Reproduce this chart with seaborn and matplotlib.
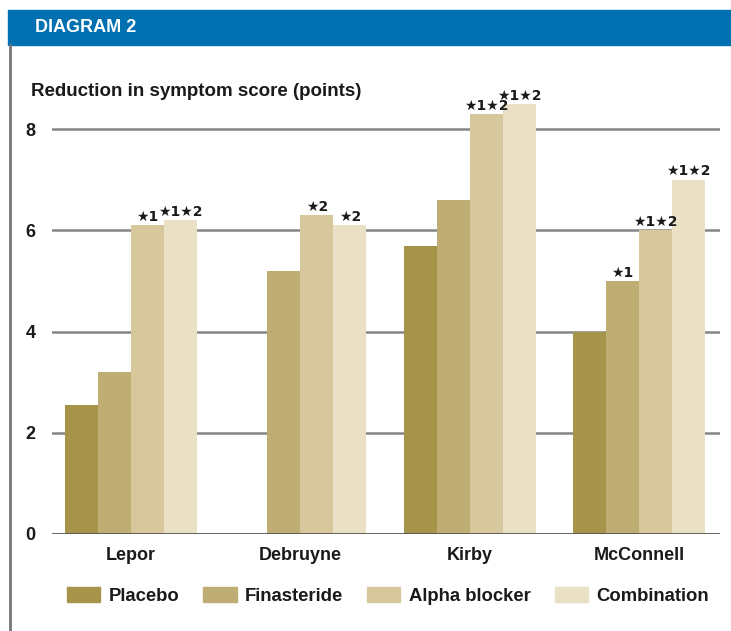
import pandas as pd
import matplotlib.pyplot as plt
import seaborn as sns
from matplotlib.patches import Rectangle
from matplotlib.lines import Line2D

# data (Debruyne has no placebo bar)
studies = ["Lepor", "Debruyne", "Kirby", "McConnell"]
treatments = ["Placebo", "Finasteride", "Alpha blocker", "Combination"]
placebo = [2.55, None, 5.7, 4.0]
finasteride = [3.2, 5.2, 6.6, 5.0]
alpha_blocker = [6.1, 6.3, 8.3, 6.0]
combination = [6.2, 6.1, 8.5, 7.0]
# significance marks above each bar
marks_placebo = ["", "", "", ""]
marks_finasteride = ["", "", "", "★1"]
marks_alpha = ["★1", "★2", "★1★2", "★1★2"]
marks_combination = ["★1★2", "★2", "★1★2", "★1★2"]
colors = ["#a6944a", "#bfae74", "#d6c89c", "#e9e0c6"]

rows = []
for t, vals, marks in zip(treatments,
                          [placebo, finasteride, alpha_blocker, combination],
                          [marks_placebo, marks_finasteride, marks_alpha, marks_combination]):
    for s, v, m in zip(studies, vals, marks):
        if v is not None:
            rows.append({"study": s, "treatment": t, "score": v, "mark": m})
data = pd.DataFrame(rows)

sns.set_theme(style="white")
narrow = ["Liberation Sans Narrow", "Liberation Sans", "DejaVu Sans"]
plt.rcParams["font.family"] = narrow

fig = plt.figure(figsize=(7.31, 6.31), dpi=100)
ax = fig.add_axes([52 / 731, 97 / 631, 668 / 731, 9 * 50.6 / 631])

sns.barplot(data=data, x="study", y="score", hue="treatment", order=studies,
            hue_order=treatments, palette=colors, width=0.78, errorbar=None,
            saturation=1, linewidth=0, legend=False, ax=ax, zorder=3)

for cont, t in zip(ax.containers, treatments):
    sub = data[data["treatment"] == t].set_index("study").reindex(
        [s for s in studies if s in set(data[data["treatment"] == t]["study"])])
    ax.bar_label(cont, labels=list(sub["mark"]), padding=1, fontsize=10,
                 fontweight="bold", color="#1a1a1a", family=["DejaVu Sans"])

ax.set_xlim(-0.4675, 3.479)
ax.set_ylim(0, 9)
ax.set_yticks([0, 2, 4, 6, 8])
ax.set_axisbelow(True)
for y in [2, 4, 6, 8]:
    ax.axhline(y, color="#858585", lw=1.8, zorder=1)
ax.axhline(0, color="#555555", lw=2, zorder=4)
for sp in ax.spines.values():
    sp.set_visible(False)
ax.tick_params(length=0, pad=12)
ax.set_xlabel("")
ax.set_ylabel("")
for lab in ax.get_xticklabels() + ax.get_yticklabels():
    lab.set_fontweight("bold")
    lab.set_fontsize(13)
    lab.set_color("#1a1a1a")
ax.tick_params(axis="x", pad=9)
ax.patch.set_alpha(0)

fig.text(31 / 731, 1 - 91 / 631, "Reduction in symptom score (points)",
         fontsize=13.5, fontweight="bold", color="#1a1a1a", va="center")

# header bar
fig.patches.append(Rectangle((8 / 731, 1 - 45 / 631), 1, 35 / 631,
                             transform=fig.transFigure, color="#0070b0", zorder=0))
fig.text(35 / 731, 1 - 28 / 631, "DIAGRAM 2", fontsize=13, fontweight="bold",
         color="white", va="center")
fig.lines.append(Line2D([10 / 731, 10 / 731], [0, 1 - 45 / 631],
                        transform=fig.transFigure, color="#777777", lw=2))

handles = [Rectangle((0, 0), 1, 1, color=c) for c in colors]
leg = fig.legend(handles, treatments, ncol=4, loc="center left",
                 bbox_to_anchor=(67 / 731, 1 - 596 / 631), frameon=False,
                 borderpad=0, borderaxespad=0,
                 handlelength=1.8, handleheight=0.84, handletextpad=0.45,
                 columnspacing=1.3, prop={"weight": "bold", "size": 13.3})
for txt in leg.get_texts():
    txt.set_color("#1a1a1a")

fig.savefig("out.png", dpi=100)
